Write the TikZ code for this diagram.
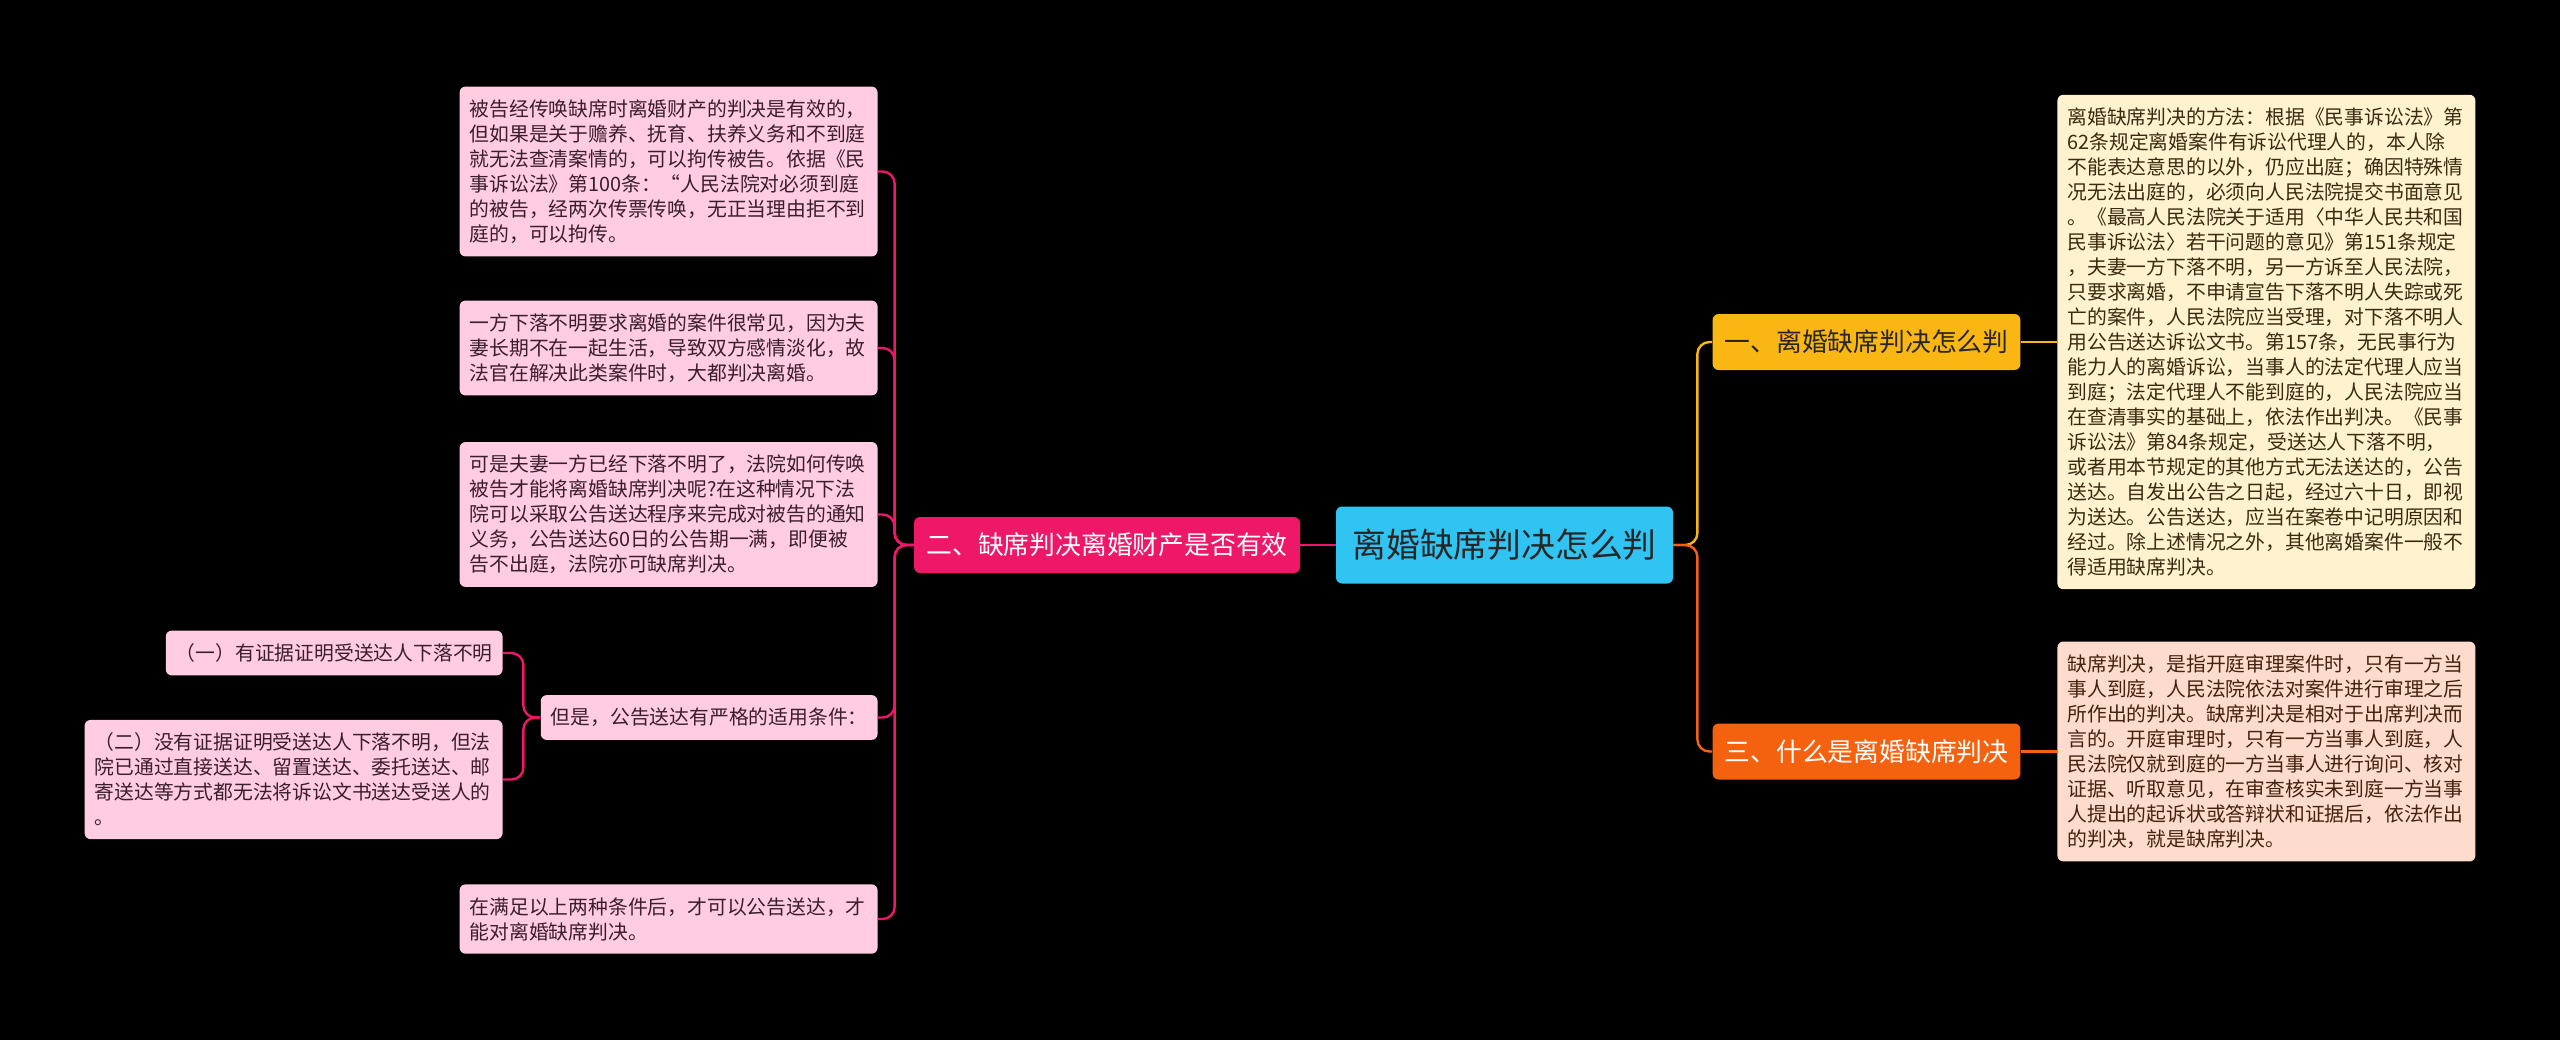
\documentclass[tikz,border=0pt]{standalone}
\usepackage{fontspec}
\setmainfont{Noto Sans CJK SC}
\usetikzlibrary{positioning}
\definecolor{RootBlue}{HTML}{31C4F3}
\definecolor{SecPink}{HTML}{EE1768}
\definecolor{SecGold}{HTML}{FAB714}
\definecolor{SecOrange}{HTML}{F5620F}
\definecolor{LeafPink}{HTML}{FFCCE2}
\definecolor{LeafCream}{HTML}{FFF3CF}
\definecolor{LeafPeach}{HTML}{FDDCCD}
\definecolor{InkPink}{HTML}{3A1E2C}
\definecolor{InkBrown}{HTML}{3B2A10}
\definecolor{InkRust}{HTML}{45210F}
\tikzset{
  rootbox/.style={fill=RootBlue, rounded corners=3pt, minimum width=168.5pt, minimum height=38.5pt, font=\fontsize{16.9}{20}\selectfont, text=black!85},
  secbox/.style={rounded corners=3pt, minimum height=28pt, inner xsep=6pt, font=\fontsize{12.9}{15}\selectfont},
  leafbox/.style={rounded corners=3pt, inner xsep=5pt, inner ysep=6.5pt, align=left, font=\fontsize{9.9}{12.5}\selectfont},
  pinkleaf/.style={leafbox, fill=LeafPink, text=InkPink},
  wide/.style={text width=199pt},
  link/.style={line width=1.2pt, rounded corners=6pt},
}
\begin{document}
\begin{tikzpicture}[x=0.5pt, y=-0.5pt]
    \fill[black] (0,0) rectangle (2560,1040);
    \useasboundingbox (0,0) rectangle (2560,1040);
    % centre and main branches
    \node[rootbox] (root) at (1504.5,545) {离婚缺席判决怎么判};
    \node[secbox, fill=SecPink, text=white, minimum width=193pt] (sec2) at (1107,545) {二、缺席判决离婚财产是否有效};
    \node[secbox, fill=SecGold, text=black!85, minimum width=153.5pt] (sec1) at (1866.5,342) {一、离婚缺席判决怎么判};
    \node[secbox, fill=SecOrange, text=white, minimum width=153.5pt] (sec3) at (1866.5,751.5) {三、什么是离婚缺席判决};
    % left leaves
    \node[pinkleaf, wide, anchor=east] (p1) at (878,171.5) {被告经传唤缺席时离婚财产的判决是有效的，\\
但如果是关于赡养、抚育、扶养义务和不到庭\\
就无法查清案情的，可以拘传被告。依据《民\\
事诉讼法》第100条：“人民法院对必须到庭\\
的被告，经两次传票传唤，无正当理由拒不到\\
庭的，可以拘传。};
    \node[pinkleaf, wide, anchor=east] (p2) at (878,348) {一方下落不明要求离婚的案件很常见，因为夫\\
妻长期不在一起生活，导致双方感情淡化，故\\
法官在解决此类案件时，大都判决离婚。};
    \node[pinkleaf, wide, anchor=east] (p3) at (878,514.5) {可是夫妻一方已经下落不明了，法院如何传唤\\
被告才能将离婚缺席判决呢?在这种情况下法\\
院可以采取公告送达程序来完成对被告的通知\\
义务，公告送达60日的公告期一满，即便被\\
告不出庭，法院亦可缺席判决。};
    \node[pinkleaf, anchor=east] (p4) at (878,717.5) {但是，公告送达有严格的适用条件：};
    \node[pinkleaf, wide, anchor=east] (p5) at (878,919) {在满足以上两种条件后，才可以公告送达，才\\
能对离婚缺席判决。};
    \node[pinkleaf, anchor=east] (c1) at (503,653) {（一）有证据证明受送达人下落不明};
    \node[pinkleaf, wide, anchor=east] (c2) at (503,779.5) {（二）没有证据证明受送达人下落不明，但法\\
院已通过直接送达、留置送达、委托送达、邮\\
寄送达等方式都无法将诉讼文书送达受送人的\\
。};
    % right leaves
    \node[leafbox, wide, fill=LeafCream, text=InkBrown, anchor=west] (r1) at (2057,342) {离婚缺席判决的方法：根据《民事诉讼法》第\\
62条规定离婚案件有诉讼代理人的，本人除\\
不能表达意思的以外，仍应出庭；确因特殊情\\
况无法出庭的，必须向人民法院提交书面意见\\
。《最高人民法院关于适用〈中华人民共和国\\
民事诉讼法〉若干问题的意见》第151条规定\\
，夫妻一方下落不明，另一方诉至人民法院，\\
只要求离婚，不申请宣告下落不明人失踪或死\\
亡的案件，人民法院应当受理，对下落不明人\\
用公告送达诉讼文书。第157条，无民事行为\\
能力人的离婚诉讼，当事人的法定代理人应当\\
到庭；法定代理人不能到庭的，人民法院应当\\
在查清事实的基础上，依法作出判决。《民事\\
诉讼法》第84条规定，受送达人下落不明，\\
或者用本节规定的其他方式无法送达的，公告\\
送达。自发出公告之日起，经过六十日，即视\\
为送达。公告送达，应当在案卷中记明原因和\\
经过。除上述情况之外，其他离婚案件一般不\\
得适用缺席判决。};
    \node[leafbox, wide, fill=LeafPeach, text=InkRust, anchor=west] (r3) at (2057,751.5) {缺席判决，是指开庭审理案件时，只有一方当\\
事人到庭，人民法院依法对案件进行审理之后\\
所作出的判决。缺席判决是相对于出席判决而\\
言的。开庭审理时，只有一方当事人到庭，人\\
民法院仅就到庭的一方当事人进行询问、核对\\
证据、听取意见，在审查核实未到庭一方当事\\
人提出的起诉状或答辩状和证据后，依法作出\\
的判决，就是缺席判决。};
    % connectors
    \draw[link, SecPink] (root.west) -- (sec2.east);
    \foreach \p in {p1,p2,p3,p4,p5}
        \draw[link, SecPink] (sec2.west) -- ++(-9.5pt,0) |- (\p.east);
    \foreach \c in {c1,c2}
        \draw[link, SecPink] (p4.west) -- ++(-8.5pt,0) |- (\c.east);
    \draw[link, SecGold] (root.east) -- ++(12pt,0) |- (sec1.west);
    \draw[link, SecOrange] (root.east) -- ++(12pt,0) |- (sec3.west);
    \draw[link, SecGold] (sec1.east) -- (r1.west);
    \draw[link, SecOrange] (sec3.east) -- (r3.west);
\end{tikzpicture}
\end{document}
